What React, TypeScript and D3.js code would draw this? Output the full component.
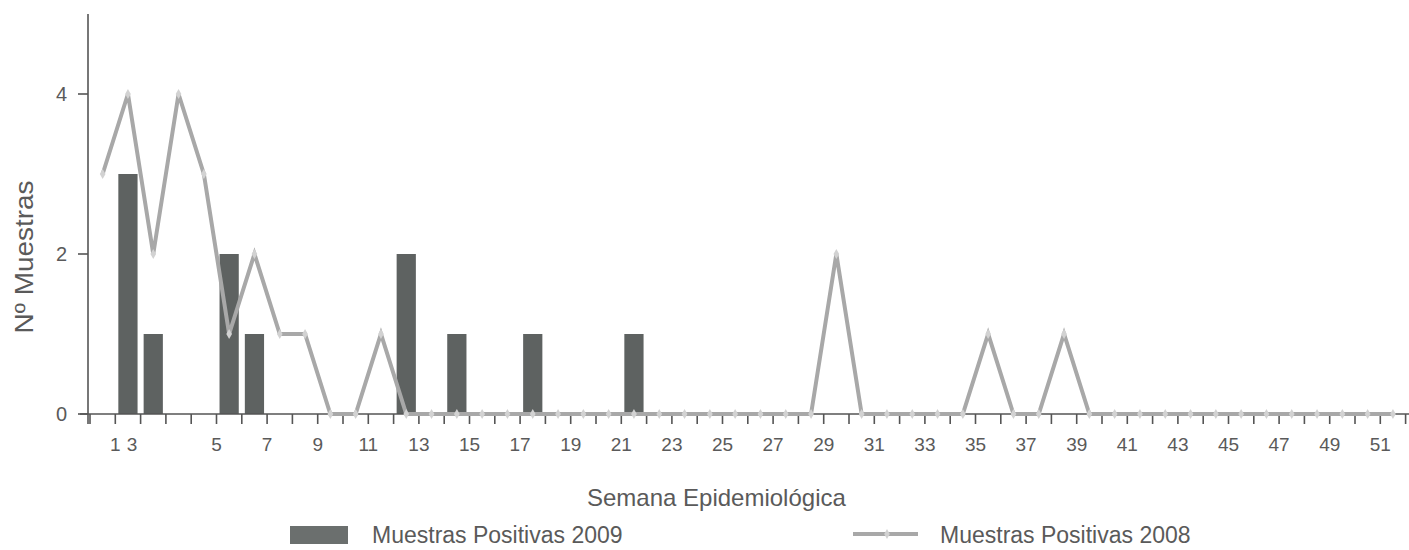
import * as d3 from 'd3'

const weeks = d3.range(1, 53)

// Muestras Positivas 2009 (bars) - weeks not listed are 0
const positives2009: [number, number][] = [
  [2, 3], [3, 1], [6, 2], [7, 1], [13, 2], [15, 1], [18, 1], [22, 1],
]

// Muestras Positivas 2008 (line), week 1..52
const positives2008 = [
  3, 4, 2, 4, 3, 1, 2, 1, 1, 0, 0, 1, 0, 0, 0, 0, 0, 0, 0, 0,
  0, 0, 0, 0, 0, 0, 0, 0, 0, 2, 0, 0, 0, 0, 0, 1, 0, 0, 1, 0,
  0, 0, 0, 0, 0, 0, 0, 0, 0, 0, 0, 0,
]

const yTicks = [0, 2, 4]
const xTickLabels = d3.range(1, 52, 2).map(String)

const COLORS = {
  axis: '#555',
  text: '#5a5a5a',
  bar: '#5e6261',
  line: '#a8a8a8',
  marker: '#d2d2d2',
}

export default function App() {
  const width = 1409
  const height = 550
  const left = 90
  const bandW = 25.3

  const x = d3.scaleBand<number>()
    .domain(weeks)
    .range([left, left + weeks.length * bandW])
  const bw = x.bandwidth()
  const cx = (w: number) => (x(w) ?? 0) + bw / 2

  const y = d3.scaleLinear().domain([0, 5]).range([414, 14])

  const line = d3.line<number>()
    .x((_, i) => cx(weeks[i]))
    .y(d => y(d))

  const diamond = d3.symbol(d3.symbolDiamond, 28)() ?? undefined
  const barW = bw * 0.76

  const boundaries = [...weeks.map(w => x(w) ?? 0), x.range()[1]]

  // the "3" label sits right next to "1" in the original
  const labelX = (lab: string) => {
    const n = +lab
    if (n === 3) return cx(2) + bw * 0.16
    return (x(n) ?? 0) + bw
  }

  return (
    <svg width={width} height={height} style={{position: 'absolute', left: 0, top: 0, background: '#fff'}}
      fontFamily={'Liberation Sans, Arial, sans-serif'}>
      {/* bars */}
      {positives2009.map(([w, v]) => (
        <rect key={w} x={cx(w) - barW / 2} y={y(v)} width={barW} height={y(0) - y(v)} fill={COLORS.bar} />
      ))}

      {/* axes */}
      <line x1={left - 2} x2={left - 2} y1={y(5)} y2={y(0) + 10} stroke={COLORS.axis} strokeWidth={1.6} />
      <line x1={left - 10} x2={width} y1={y(0)} y2={y(0)} stroke={COLORS.axis} strokeWidth={1.6} />
      {yTicks.map(t => (
        <g key={t}>
          <line x1={left - 12} x2={left - 2} y1={y(t)} y2={y(t)} stroke={COLORS.axis} strokeWidth={1.6} />
          <text x={67} y={y(t)} dy={'0.35em'} textAnchor={'end'} fontSize={20} fill={COLORS.text}>{t}</text>
        </g>
      ))}
      {boundaries.map((b, i) => (
        <line key={i} x1={b} x2={b} y1={y(0)} y2={y(0) + 10} stroke={COLORS.axis} strokeWidth={1.6} />
      ))}
      {xTickLabels.map(lab => (
        <text key={lab} x={labelX(lab)} y={451} textAnchor={'middle'} fontSize={19} fill={COLORS.text}>{lab}</text>
      ))}

      {/* 2008 line */}
      <path d={line(positives2008) ?? undefined} fill={'none'} stroke={COLORS.line} strokeWidth={4} strokeLinejoin={'miter'} />
      {positives2008.map((v, i) => (
        <path key={i} d={diamond} transform={`translate(${cx(weeks[i])},${y(v)})`} fill={COLORS.marker} />
      ))}

      {/* titles */}
      <text transform={`translate(24,257) rotate(-90)`} textAnchor={'middle'} dy={'0.35em'} fontSize={25}
        textLength={153} lengthAdjust={'spacingAndGlyphs'} fill={COLORS.text}>Nº Muestras</text>
      <text x={587} y={506} fontSize={24} fill={COLORS.text}>Semana Epidemiológica</text>

      {/* legend */}
      <rect x={290} y={526} width={58} height={18} fill={'#6b6f6e'} />
      <text x={372} y={543} fontSize={23} fill={COLORS.text}>Muestras Positivas 2009</text>
      <line x1={853} x2={918} y1={534} y2={534} stroke={COLORS.line} strokeWidth={4} />
      <path d={diamond} transform={`translate(887,534)`} fill={COLORS.marker} />
      <text x={940} y={543} fontSize={23} fill={COLORS.text}>Muestras Positivas 2008</text>
    </svg>
  )
}
